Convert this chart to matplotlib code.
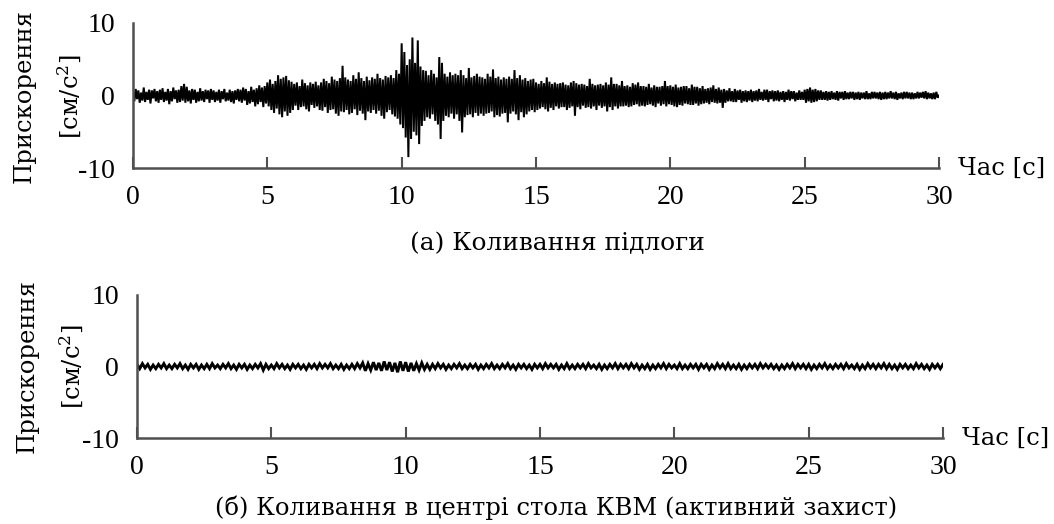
import numpy as np
import matplotlib
matplotlib.use("Agg")
import matplotlib.pyplot as plt

plt.rcParams['font.family'] = ['Liberation Serif', 'DejaVu Serif']
plt.rcParams['mathtext.fontset'] = 'custom'
plt.rcParams['mathtext.rm'] = 'DejaVu Serif'
plt.rcParams['mathtext.it'] = 'DejaVu Serif'
plt.rcParams['axes.unicode_minus'] = False

# ---- data ----
floor_dt = 0.05  # s
floor_acc = [
    0.6, -0.8, 0.9, -0.5, 0.7, -1.0, 0.4, -0.7, 1.1, -0.9, 0.5, -0.6, 0.8, -1.1, 0.7, -0.4, 0.9, -0.8, 0.6, -1.0,
    0.8, -0.6, 1.0, -0.9, 0.5, -0.7, 0.9, -1.2, 0.6, -0.8, 1.1, -0.5, 0.7, -1.0, 0.8, -0.9, 1.3, -0.7, 1.6, -1.0,
    1.2, -0.8, 0.7, -1.1, 0.9, -0.6, 0.8, -1.0, 0.5, -0.8, 1.0, -0.7, 0.6, -0.9, 0.8, -0.5, 0.7, -1.0, 0.9, -0.6,
    0.7, -0.9, 0.5, -0.7, 0.8, -1.0, 0.6, -0.5, 0.9, -0.8, 0.4, -0.7, 0.8, -0.9, 0.6, -1.1, 0.7, -0.6, 0.9, -0.8,
    0.8, -1.0, 1.1, -0.7, 0.9, -1.3, 0.6, -1.1, 1.2, -0.9, 0.8, -1.5, 1.0, -1.2, 1.4, -0.9, 1.1, -1.6, 1.3, -1.1,
    1.8, -1.5, 2.2, -2.0, 1.6, -2.4, 2.0, -1.8, 2.8, -2.6, 2.3, -3.0, 2.5, -2.2, 2.7, -2.8, 2.1, -2.4, 1.9, -2.0,
    1.6, -1.4, 1.8, -2.0, 1.3, -1.6, 2.2, -1.5, 1.7, -1.9, 1.4, -2.2, 1.8, -1.3, 1.6, -1.7, 1.9, -1.5, 1.4, -2.0,
    1.8, -2.1, 2.3, -1.6, 2.0, -2.4, 1.7, -2.0, 2.6, -1.9, 2.2, -2.5, 2.0, -2.8, 2.4, -2.2, 4.1, -2.3, 2.5, -2.0,
    2.2, -2.6, 2.0, -2.4, 2.8, -1.9, 2.3, -2.7, 3.2, -2.1, 2.4, -2.5, 2.0, -3.4, 2.6, -2.2, 2.1, -2.4, 2.5, -2.0,
    2.3, -2.5, 3.0, -2.1, 2.4, -2.8, 2.2, -3.2, 2.7, -2.3, 2.5, -2.0, 2.8, -2.6, 2.4, -2.9, 3.5, -3.2, 3.0, -4.0,
    7.2, -4.5, 6.0, -5.8, 4.2, -8.5, 5.0, -6.0, 8.0, -5.0, 4.5, -5.5, 7.6, -6.7, 4.0, -4.2, 3.5, -3.5, 3.4, -3.0,
    2.8, -3.2, 3.5, -2.6, 3.0, -3.5, 2.5, -4.0, 5.3, -6.0, 4.5, -3.5, 3.0, -2.8, 2.6, -3.0, 3.2, -2.5, 2.8, -3.2,
    3.0, -2.6, 2.8, -3.5, 3.5, -5.1, 2.8, -3.0, 2.4, -2.7, 3.8, -2.6, 2.5, -3.0, 2.7, -2.4, 3.0, -2.8, 2.6, -2.5,
    2.5, -2.8, 2.3, -2.5, 3.0, -2.4, 2.6, -2.2, 3.6, -3.0, 2.4, -2.7, 2.6, -2.9, 2.2, -2.5, 2.5, -2.4, 2.3, -3.7,
    2.6, -2.5, 2.3, -2.2, 3.5, -2.6, 2.4, -3.4, 2.8, -2.3, 2.2, -3.0, 2.4, -2.6, 2.0, -2.2, 2.2, -2.0, 2.3, -2.3,
    1.8, -2.0, 1.6, -1.8, 2.0, -1.6, 1.7, -1.9, 2.5, -2.2, 1.9, -1.7, 1.6, -2.0, 1.8, -1.5, 1.6, -1.8, 1.7, -1.6,
    1.8, -1.6, 1.5, -2.0, 1.4, -1.7, 1.8, -1.5, 2.0, -2.8, 1.7, -1.6, 1.5, -1.9, 1.6, -1.4, 1.5, -1.7, 1.3, -1.6,
    2.3, -1.8, 1.6, -1.5, 1.4, -2.0, 1.5, -1.4, 1.6, -1.7, 1.4, -1.5, 1.8, -2.2, 1.5, -1.6, 2.5, -2.0, 1.6, -1.5,
    1.6, -1.8, 1.4, -1.5, 2.0, -1.5, 1.3, -1.4, 1.4, -1.6, 1.2, -1.5, 1.7, -1.3, 1.5, -1.2, 1.8, -1.5, 1.3, -1.4,
    1.3, -1.5, 1.2, -1.3, 1.6, -1.2, 1.1, -1.4, 1.4, -1.6, 1.2, -1.1, 1.2, -1.4, 1.3, -1.2, 2.0, -1.5, 1.3, -1.2,
    1.4, -1.3, 1.2, -1.5, 1.5, -1.6, 1.1, -1.3, 1.2, -1.4, 1.3, -1.1, 1.3, -1.2, 1.0, -1.3, 1.5, -1.3, 1.2, -1.1,
    1.2, -1.4, 1.0, -1.2, 1.3, -1.1, 0.9, -1.0, 1.0, -1.2, 1.1, -0.9, 1.4, -1.0, 0.9, -1.1, 1.1, -1.0, 0.8, -1.7,
    0.9, -1.0, 0.7, -0.8, 1.0, -0.8, 0.6, -0.9, 0.9, -0.9, 0.7, -0.6, 0.8, -1.0, 0.6, -0.8, 0.7, -0.9, 0.6, -0.7,
    0.8, -0.9, 0.6, -0.7, 0.7, -0.8, 0.9, -0.6, 0.5, -0.7, 0.8, -0.6, 0.8, -0.9, 0.6, -0.5, 0.7, -0.8, 0.6, -0.7,
    0.7, -0.8, 0.5, -0.6, 0.6, -0.9, 0.5, -0.6, 0.8, -0.7, 0.6, -0.5, 0.6, -0.8, 0.4, -0.6, 0.7, -0.6, 0.5, -0.6,
    0.8, -1.0, 0.9, -0.8, 1.1, -1.0, 0.8, -0.9, 0.9, -0.8, 0.7, -0.6, 0.7, -0.6, 0.5, -0.6, 0.6, -0.7, 0.5, -0.6,
    0.6, -0.5, 0.4, -0.6, 0.6, -0.7, 0.5, -0.4, 0.5, -0.6, 0.6, -0.5, 0.4, -0.5, 0.5, -0.4, 0.5, -0.6, 0.4, -0.5,
    0.5, -0.6, 0.4, -0.4, 0.4, -0.5, 0.6, -0.5, 0.3, -0.5, 0.5, -0.4, 0.5, -0.4, 0.4, -0.5, 0.5, -0.6, 0.4, -0.5,
    0.5, -0.5, 0.4, -0.4, 0.6, -0.4, 0.4, -0.5, 0.5, -0.6, 0.3, -0.4, 0.4, -0.5, 0.5, -0.4, 0.5, -0.4, 0.4, -0.5,
    0.4, -0.5, 0.3, -0.4, 0.5, -0.4, 0.4, -0.3, 0.5, -0.4, 0.6, -0.5, 0.4, -0.4, 0.3, -0.5, 0.4, -0.5, 0.5, -0.3,
    0.0,
]

table_dt = 0.1  # s
table_acc = [
    0.3, -0.3, 0.4, -0.2, 0.3, -0.4, 0.2, -0.3, 0.3, -0.2,
    0.4, -0.3, 0.2, -0.3, 0.3, -0.2, 0.4, -0.3, 0.2, -0.4,
    0.3, -0.2, 0.3, -0.4, 0.2, -0.3, 0.3, -0.3, 0.4, -0.2,
    0.2, -0.3, 0.3, -0.2, 0.4, -0.3, 0.2, -0.4, 0.3, -0.2,
    0.3, -0.4, 0.2, -0.3, 0.3, -0.2, 0.4, -0.5, 0.3, -0.3,
    0.2, -0.3, 0.4, -0.2, 0.3, -0.3, 0.2, -0.4, 0.3, -0.2,
    0.3, -0.3, 0.2, -0.4, 0.3, -0.2, 0.3, -0.3, 0.4, -0.2,
    0.3, -0.2, 0.4, -0.3, 0.2, -0.3, 0.3, -0.4, 0.2, -0.3,
    0.3, -0.3, 0.4, -0.2, 0.5, -0.6, 0.4, -0.5, 0.6, -0.5,
    0.5, -0.6, 0.7, -0.5, 0.6, -0.7, 0.5, -0.8, 0.7, -0.6,
    0.6, -0.7, 0.5, -0.6, 0.4, -0.5, 0.5, -0.4, 0.3, -0.4,
    0.3, -0.3, 0.4, -0.2, 0.3, -0.4, 0.2, -0.3, 0.3, -0.2,
    0.4, -0.3, 0.2, -0.3, 0.3, -0.2, 0.3, -0.4, 0.2, -0.3,
    0.3, -0.2, 0.4, -0.3, 0.2, -0.3, 0.3, -0.2, 0.4, -0.3,
    0.2, -0.4, 0.3, -0.2, 0.3, -0.3, 0.2, -0.4, 0.3, -0.2,
    0.3, -0.3, 0.4, -0.2, 0.3, -0.2, 0.3, -0.4, 0.2, -0.3,
    0.4, -0.3, 0.2, -0.3, 0.3, -0.2, 0.3, -0.3, 0.4, -0.2,
    0.2, -0.3, 0.3, -0.4, 0.2, -0.3, 0.3, -0.2, 0.4, -0.3,
    0.3, -0.2, 0.3, -0.3, 0.4, -0.2, 0.3, -0.4, 0.2, -0.3,
    0.3, -0.4, 0.2, -0.3, 0.3, -0.2, 0.4, -0.3, 0.3, -0.2,
    0.2, -0.3, 0.4, -0.3, 0.2, -0.3, 0.3, -0.2, 0.3, -0.4,
    0.3, -0.2, 0.3, -0.4, 0.2, -0.3, 0.4, -0.2, 0.3, -0.3,
    0.4, -0.3, 0.2, -0.3, 0.3, -0.4, 0.2, -0.3, 0.3, -0.2,
    0.3, -0.3, 0.4, -0.2, 0.3, -0.2, 0.3, -0.3, 0.2, -0.4,
    0.2, -0.3, 0.3, -0.2, 0.4, -0.3, 0.3, -0.2, 0.3, -0.3,
    0.3, -0.4, 0.2, -0.3, 0.3, -0.2, 0.4, -0.3, 0.2, -0.3,
    0.3, -0.2, 0.3, -0.3, 0.4, -0.2, 0.2, -0.3, 0.3, -0.4,
    0.2, -0.3, 0.4, -0.2, 0.3, -0.3, 0.3, -0.2, 0.4, -0.3,
    0.3, -0.3, 0.2, -0.4, 0.3, -0.2, 0.3, -0.3, 0.2, -0.3,
    0.4, -0.2, 0.3, -0.3, 0.2, -0.4, 0.3, -0.2, 0.3, -0.3,
    0.3,
]

x_ticks = [0, 5, 10, 15, 20, 25, 30]
y_ticks = [-10, 0, 10]
x_label = "Час [с]"
y_label_1 = "Прискорення"
y_label_2 = "[см/с$^{2}$]"
caption_a = "(а) Коливання підлоги"
caption_b = "(б) Коливання в центрі стола КВМ (активний захист)"

t_floor = np.arange(len(floor_acc)) * floor_dt
t_table = np.arange(len(table_acc)) * table_dt

W, H = 1054, 524
fig = plt.figure(figsize=(W / 100, H / 100), dpi=100)
FS = 20          # tick labels
TFS = 17.5       # texts
TFAM = ['DejaVu Serif']
spine_col = '#505050'


def make_axes(rect, t, a, lw):
    ax = fig.add_axes(rect)
    ax.plot(t, a, color='black', lw=lw, solid_joinstyle='miter')
    ax.set_xlim(0, 30)
    ax.set_ylim(-10, 10)
    ax.set_xticks(x_ticks)
    ax.set_yticks(y_ticks)
    for s in ['top', 'right']:
        ax.spines[s].set_visible(False)
    for s in ['left', 'bottom']:
        ax.spines[s].set_color(spine_col)
        ax.spines[s].set_linewidth(1.8)
    ax.tick_params(axis='x', direction='in', length=8, width=1.5,
                   color=spine_col, labelsize=FS, pad=12)
    ax.tick_params(axis='y', length=0, labelsize=FS, pad=13)
    ax.text(1.023, 0.0, x_label, transform=ax.transAxes, ha='left',
            va='center', fontsize=TFS, family=TFAM)
    return ax


ax1 = make_axes([133 / W, 1 - 168 / H, 806 / W, 145 / H], t_floor, floor_acc, 1.45)
ax2 = make_axes([137 / W, 1 - 438 / H, 806 / W, 143 / H], t_table, table_acc, 2.1)

# y labels (two lines each)
fig.text(24 / W, 1 - 96 / H, y_label_1, rotation=90, ha='center', va='center', fontsize=TFS, family=TFAM)
fig.text(70 / W, 1 - 97 / H, y_label_2, rotation=90, ha='center', va='center', fontsize=TFS, family=TFAM)
fig.text(27 / W, 1 - 366 / H, y_label_1, rotation=90, ha='center', va='center', fontsize=TFS, family=TFAM)
fig.text(72 / W, 1 - 367 / H, y_label_2, rotation=90, ha='center', va='center', fontsize=TFS, family=TFAM)

fig.text(557 / W, 1 - 244 / H, caption_a, ha='center', va='center', fontsize=17.9, family=TFAM)
fig.text(556 / W, 1 - 508 / H, caption_b, ha='center', va='center', fontsize=TFS, family=TFAM)

fig.savefig('out.png', dpi=100)
